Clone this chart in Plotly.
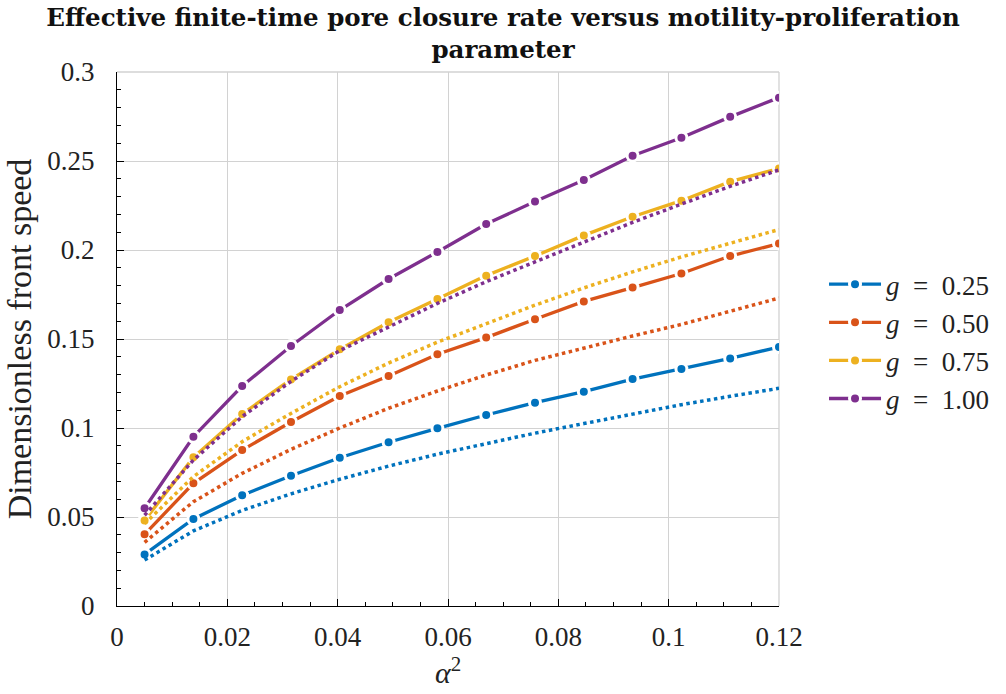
import plotly.graph_objects as go

# alpha^2 sample points shared by every curve
alpha2 = [0.005, 0.01385, 0.02269, 0.03154, 0.04038, 0.04923, 0.05808,
          0.06692, 0.07577, 0.08462, 0.09346, 0.10231, 0.11115, 0.12]

g_labels = ["0.25", "0.50", "0.75", "1.00"]

# effective finite-time closure rate (dashed, with markers)
speed_g025 = [0.0290, 0.0489, 0.0622, 0.0732, 0.0833, 0.0920, 0.0998,
              0.1073, 0.1142, 0.1204, 0.1275, 0.1331, 0.1391, 0.1455]
speed_g050 = [0.0403, 0.0689, 0.0876, 0.1034, 0.1180, 0.1292, 0.1414,
              0.1508, 0.1611, 0.1711, 0.1789, 0.1868, 0.1966, 0.2036]
speed_g075 = [0.0481, 0.0835, 0.1079, 0.1273, 0.1442, 0.1594, 0.1725,
              0.1856, 0.1966, 0.2082, 0.2187, 0.2277, 0.2384, 0.2458]
speed_g100 = [0.0549, 0.0951, 0.1236, 0.1461, 0.1663, 0.1837, 0.1989,
              0.2146, 0.2272, 0.2393, 0.2530, 0.2631, 0.2748, 0.2856]

# reference front speed (dotted)
ref_g025 = [0.0258, 0.0422, 0.0537, 0.0630, 0.0712, 0.0786, 0.0853,
            0.0914, 0.0971, 0.1025, 0.1078, 0.1131, 0.1178, 0.1223]
ref_g050 = [0.0358, 0.0586, 0.0745, 0.0880, 0.1000, 0.1111, 0.1208,
            0.1298, 0.1380, 0.1450, 0.1517, 0.1582, 0.1656, 0.1730]
ref_g075 = [0.0462, 0.0727, 0.0923, 0.1082, 0.1232, 0.1365, 0.1482,
            0.1588, 0.1690, 0.1787, 0.1877, 0.1961, 0.2040, 0.2115]
ref_g100 = [0.0510, 0.0820, 0.1064, 0.1262, 0.1435, 0.1569, 0.1700,
            0.1822, 0.1934, 0.2045, 0.2155, 0.2258, 0.2358, 0.2450]

colors = ["#0072BD", "#D95319", "#EDB120", "#7E2F8E"]
dashed_series = [speed_g025, speed_g050, speed_g075, speed_g100]
dotted_series = [ref_g025, ref_g050, ref_g075, ref_g100]

SERIF = "Liberation Serif"
TEXT = "#222222"

fig = go.Figure()

for lab, col, ys in zip(g_labels, colors, dashed_series):
    fig.add_trace(go.Scatter(
        x=alpha2, y=ys, mode="lines+markers",
        name=f"<i>g</i>\u2002=\u2002{lab}",
        line=dict(color=col, width=3.3),
        marker=dict(color=col, size=11, line=dict(color="white", width=3)),
    ))

for col, ys in zip(colors, dotted_series):
    fig.add_trace(go.Scatter(
        x=alpha2, y=ys, mode="lines", showlegend=False,
        line=dict(color=col, width=3.5, dash="3.5px,3.5px"),
    ))

GRID = "#d2d2d2"
axis_common = dict(
    showline=True, linecolor="black", linewidth=1.3,
    showgrid=True, gridcolor=GRID, gridwidth=1.3,
    zeroline=False,
    ticks="inside", ticklen=7, tickwidth=1, tickcolor="black",
    tickfont=dict(family=SERIF, size=27, color=TEXT),
    minor=dict(ticks="inside", ticklen=4, tickwidth=1, tickcolor="black",
               showgrid=False),
)

fig.update_xaxes(
    range=[0, 0.12], minor_dtick=0.005,
    tickvals=[0, 0.02, 0.04, 0.06, 0.08, 0.1, 0.12],
    ticktext=["0", "0.02", "0.04", "0.06", "0.08", "0.1", "0.12"],
    ticklabelstandoff=6,
    title=dict(text="<i>α</i><sup>2</sup>",
               font=dict(family=SERIF, size=30, color=TEXT), standoff=6),
    **axis_common,
)
fig.update_yaxes(
    range=[0, 0.3], minor_dtick=0.01,
    tickvals=[0, 0.05, 0.1, 0.15, 0.2, 0.25, 0.3],
    ticktext=["0", "0.05", "0.1", "0.15", "0.2", "0.25", "0.3"],
    ticklabelstandoff=16,
    title=dict(text="Dimensionless front speed",
               font=dict(family=SERIF, size=34, color=TEXT), standoff=5),
    **axis_common,
)

# light frame on the open top and right sides of the axes box
fig.add_shape(type="line", xref="paper", yref="paper", x0=0, x1=1, y0=1, y1=1,
              line=dict(color=GRID, width=1.3), layer="below")
fig.add_shape(type="line", xref="paper", yref="paper", x0=1, x1=1, y0=0, y1=1,
              line=dict(color=GRID, width=1.3), layer="below")

fig.update_layout(
    width=1006, height=694,
    margin=dict(l=117, r=224, t=72, b=88),
    paper_bgcolor="white", plot_bgcolor="white",
    title=dict(
        text="Effective finite-time pore closure rate versus motility-proliferation<br>parameter",
        x=0.5, xanchor="center", y=0.962, yanchor="middle",
        font=dict(family="DejaVu Serif", size=24.5, color="#111111", weight="bold"),
    ),
    legend=dict(
        x=1.068, xanchor="left", y=0.495, yanchor="middle",
        font=dict(family=SERIF, size=27, color=TEXT),
        bgcolor="rgba(0,0,0,0)", tracegroupgap=0, itemwidth=52,
    ),
    showlegend=True,
)

fig.write_html("out.html")
